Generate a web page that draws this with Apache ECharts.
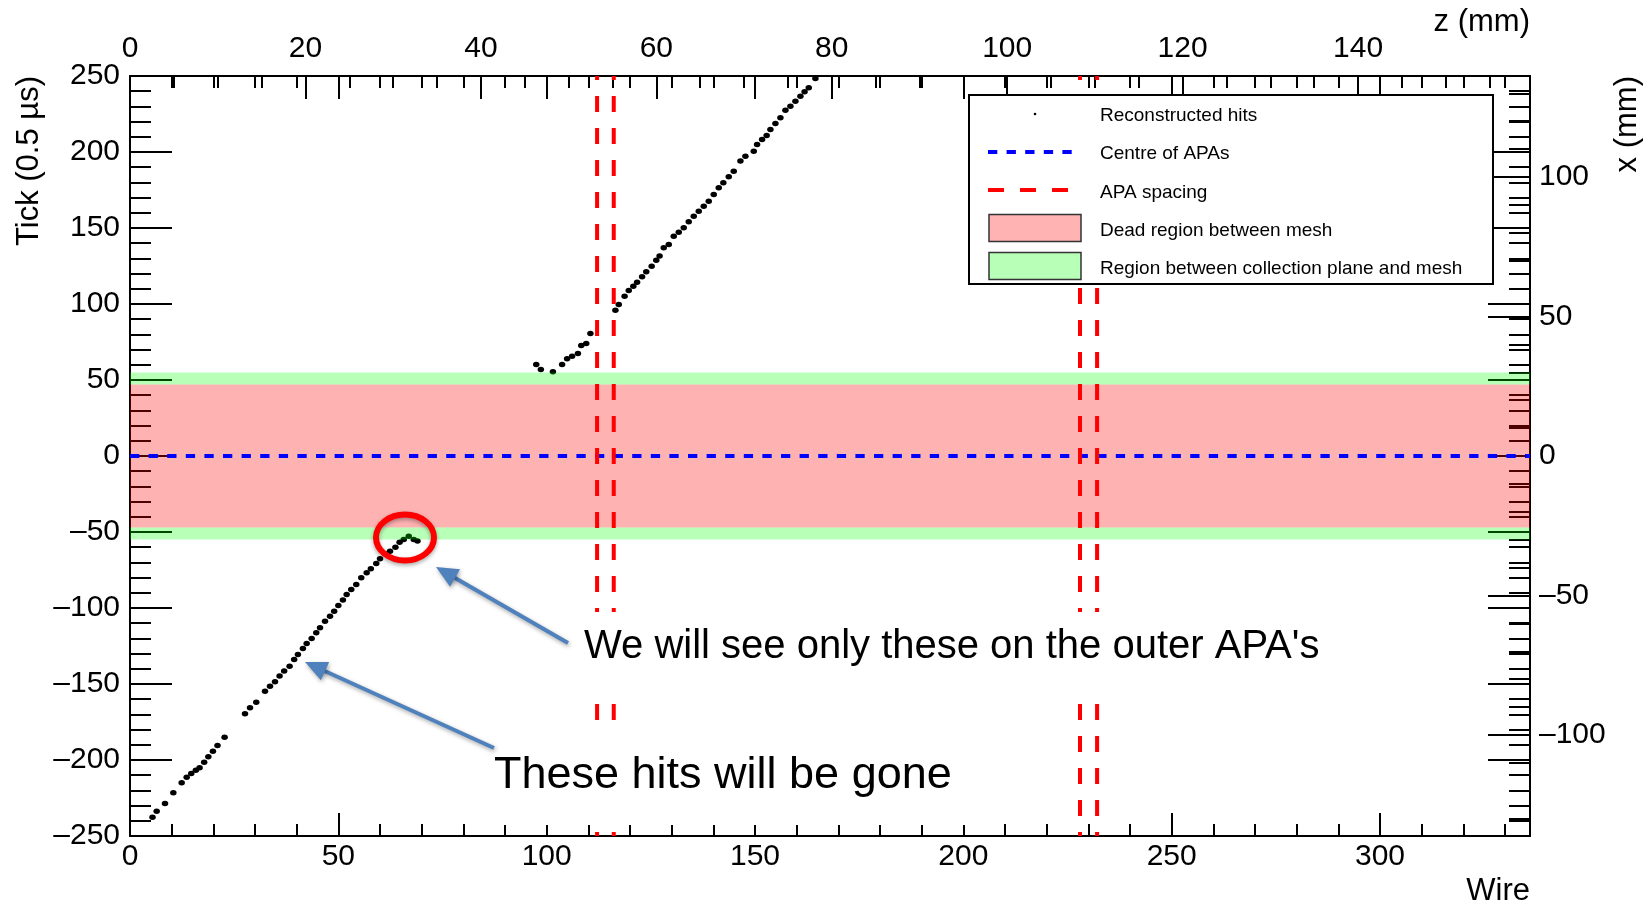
<!DOCTYPE html>
<html>
<head>
<meta charset="utf-8">
<script src="https://cdn.jsdelivr.net/npm/echarts@6/dist/echarts.min.js"></script>
<style>html,body{margin:0;padding:0;background:#fff}#chart{width:1648px;height:920px}</style>
</head>
<body>
<div id="chart"></div>
<script>
// ---------------- data ----------------
const wireRange = [0, 336];
const zRange = [0, 159.6];
const tickRange = [-250, 250];
const xmmRange = [-136.2, 136.2];

const wireMajor = [0, 50, 100, 150, 200, 250, 300];
const wireMinor = [10,20,30,40,60,70,80,90,110,120,130,140,160,170,180,190,210,220,230,240,260,270,280,290,310,320,330];
const zMajor = [0, 20, 40, 60, 80, 100, 120, 140];
const zMinor = [5,10,15,25,30,35,45,50,55,65,70,75,85,90,95,105,110,115,125,130,135,145,150,155];
const tickMajor = [-250, -200, -150, -100, -50, 0, 50, 100, 150, 200, 250];
const tickMinor = [-240,-230,-220,-210,-190,-180,-170,-160,-140,-130,-120,-110,-90,-80,-70,-60,-40,-30,-20,-10,
                   10,20,30,40,60,70,80,90,110,120,130,140,160,170,180,190,210,220,230,240];
const xmmMajor = [-100, -50, 0, 50, 100];
const xmmMinor = [-130,-120,-110,-90,-80,-70,-60,-40,-30,-20,-10,10,20,30,40,60,70,80,90,110,120,130];

// reconstructed hits [wire, tick]
const hitsLower = [
  [5.4,-237.6],[6.4,-233.7],[8.4,-228.6],[10.4,-221.6],[12.4,-215.0],[13.6,-211.3],[14.7,-208.9],
  [15.8,-206.7],[16.7,-205.1],[17.8,-201.4],[18.8,-197.9],[19.9,-194.2],[21.0,-190.5],[22.7,-185.0],
  [27.6,-169.6],[28.8,-165.7],[30.3,-162.0],[32.4,-154.7],[33.6,-151.4],[34.8,-148.5],[35.9,-144.8],
  [37.0,-141.5],[38.3,-138.3],[39.4,-133.9],[40.3,-130.6],[41.5,-126.6],[42.4,-123.4],[43.6,-120.1],
  [44.7,-116.3],[45.6,-113.0],[46.8,-108.7],[48.0,-105.4],[49.0,-102.1],[50.0,-98.4],[51.1,-94.8],
  [52.0,-91.1],[53.1,-87.8],[54.3,-84.5],[55.5,-80.1],[56.8,-76.8],[57.8,-74.2],[59.1,-70.7],
  [60.0,-67.6],[61.2,-64.3],[62.4,-62.6],[63.7,-60.0],[64.7,-56.7],[65.7,-54.9],[66.9,-52.8],
  [68.1,-54.9],[69.0,-56.0]
];
const hitsUpper = [
  [97.5,60.2],[98.6,56.9],[101.5,55.4],[103.7,60.2],[104.9,63.9],[106.1,65.7],[107.5,67.4],[108.3,72.7],
  [109.5,74.0],[110.5,80.6],[116.5,95.9],[117.3,99.7],[118.7,105.1],[119.7,108.9],[120.8,111.7],
  [121.7,114.3],[122.9,117.9],[123.9,121.2],[125.2,124.9],[126.3,128.8],[127.1,131.5],[128.1,137.0],
  [129.3,139.1],[130.5,144.6],[131.7,147.2],[132.9,150.1],[134.1,154.1],[135.3,157.8],[136.5,161.1],
  [137.7,164.3],[138.9,167.6],[140.1,172.0],[141.3,176.4],[142.4,179.7],[143.7,183.7],[144.9,187.4],
  [146.5,194.0],[147.7,197.2],[149.7,200.5],[150.5,204.9],[151.7,208.2],[152.8,210.9],[153.7,214.8],
  [154.9,218.8],[156.1,222.5],[157.3,227.5],[158.5,230.1],[159.7,233.4],[160.9,236.7],[161.9,239.6],
  [162.9,242.2],[164.5,248.4]
];
const apaWires = [112.1, 116.1, 228.0, 232.1];
const centreLine = [[0, 0], [336, 0]];
const deadRegion = [[-47, 47]];
const meshRegion = [[47, 55], [-55, -47]];

// ---------------- chart ----------------
const FONT = 'Liberation Sans, Arial, Helvetica, sans-serif';
const BLACK = '#000';
const minus = v => String(v).replace('-', '\u2013');

function axis(pos, range, ticks, len, labels, margin, line, extra) {
  const a = {
    type: 'value', position: pos, min: range[0], max: range[1],
    splitLine: { show: false },
    axisLine: { show: !!line, onZero: false, lineStyle: { color: BLACK, width: 2 } },
    axisTick: { show: true, inside: true, length: len, customValues: ticks, lineStyle: { color: BLACK, width: 2 } },
    axisLabel: labels ? { show: true, customValues: labels, margin: margin, fontSize: 30, fontFamily: FONT, color: BLACK, formatter: minus }
                      : { show: false }
  };
  return Object.assign(a, extra || {});
}

const xAxes = [
  axis('bottom', wireRange, wireMajor, 23, wireMajor, 6, true),
  axis('bottom', wireRange, wireMinor, 12, null, 0, false),
  axis('top', wireRange, wireMajor, 23, null, 0, false),
  axis('top', wireRange, wireMinor, 12, null, 0, false),
  axis('top', zRange, zMajor, 23, zMajor, 12, true),
  axis('top', zRange, zMinor, 12, null, 0, false)
];
const yAxes = [
  axis('left', tickRange, tickMajor, 42, tickMajor, 10, true),
  axis('left', tickRange, tickMinor, 21, null, 0, false),
  axis('right', tickRange, tickMajor, 42, null, 0, true),
  axis('right', tickRange, tickMinor, 21, null, 0, false),
  axis('right', xmmRange, xmmMajor, 42, xmmMajor, 9, false),
  axis('right', xmmRange, xmmMinor, 21, null, 0, false)
];

function bandSeries(data, color) {
  return {
    type: 'custom', xAxisIndex: 0, yAxisIndex: 0, z: 3, silent: true,
    data: data,
    renderItem: function (params, api) {
      const p0 = api.coord([wireRange[0], api.value(1)]);
      const p1 = api.coord([wireRange[1], api.value(0)]);
      return { type: 'rect', shape: { x: p0[0], y: p0[1], width: p1[0] - p0[0], height: p1[1] - p0[1] },
               style: { fill: color } };
    }
  };
}

const series = [
  {
    type: 'scatter', name: 'Reconstructed hits', xAxisIndex: 0, yAxisIndex: 0, z: 2, silent: true,
    data: hitsLower.concat(hitsUpper), symbol: 'circle', symbolSize: [6.5, 5.5],
    itemStyle: { color: BLACK, opacity: 1 }
  },
  bandSeries(deadRegion, 'rgba(255,0,0,0.3)'),
  bandSeries(meshRegion, 'rgba(0,255,0,0.28)'),
  {
    type: 'line', name: 'Centre of APAs', xAxisIndex: 0, yAxisIndex: 0, z: 4, silent: true,
    data: centreLine, symbol: 'none',
    lineStyle: { color: '#0000ff', width: 4, type: [9.3, 9.3] }
  }
].concat(apaWires.map(w => ({
  type: 'line', name: 'APA spacing', xAxisIndex: 0, yAxisIndex: 0, z: 4, silent: true,
  data: [[w, tickRange[1]], [w, tickRange[0]]], symbol: 'none',
  lineStyle: { color: '#ff0000', width: 4, type: [16, 16], dashOffset: 12 }
})));

// ---------------- annotations / legend (decoration) ----------------
const ARROW = '#4f81bd';
function arrow(x1, y1, x2, y2) {
  const dx = x2 - x1, dy = y2 - y1, L = Math.hypot(dx, dy);
  const ux = dx / L, uy = dy / L, px = -uy, py = ux;
  const hl = 22, hw = 10;
  const bx = x2 - ux * hl, by = y2 - uy * hl;
  const shadow = { shadowBlur: 4, shadowColor: 'rgba(0,0,0,0.35)', shadowOffsetX: 1, shadowOffsetY: 2 };
  return [
    { type: 'line', z: 20, shape: { x1: x1, y1: y1, x2: bx + ux * 4, y2: by + uy * 4 },
      style: Object.assign({ stroke: ARROW, lineWidth: 4 }, shadow) },
    { type: 'polygon', z: 20, shape: { points: [[x2, y2], [bx + px * hw, by + py * hw], [bx - px * hw, by - py * hw]] },
      style: Object.assign({ fill: ARROW }, shadow) }
  ];
}
function txt(x, y, s, size, align, rot) {
  return { type: 'text', z: 30, x: x, y: y, rotation: rot || 0,
    style: { text: s, fontSize: size, fontFamily: FONT, fill: BLACK, align: align || 'left', verticalAlign: 'middle' } };
}

const graphics = [
  // white text boxes of the slide annotations
  { type: 'rect', z: 15, shape: { x: 572, y: 612, width: 758, height: 84 }, style: { fill: '#fff' } },
  { type: 'rect', z: 15, shape: { x: 484, y: 733, width: 484, height: 92 }, style: { fill: '#fff' } },
  txt(584, 647, "We will see only these on the outer APA's", 40),
  txt(494, 776, 'These hits will be gone', 45),
  { type: 'ellipse', z: 20, shape: { cx: 405, cy: 537.5, rx: 29, ry: 23 },
    style: { fill: null, stroke: '#ff0000', lineWidth: 6, shadowBlur: 4, shadowColor: 'rgba(0,0,0,0.35)', shadowOffsetY: 2 } }
]
.concat(arrow(568, 643, 436, 567))
.concat(arrow(494, 748, 305, 662))
.concat([
  // axis titles
  txt(29, 76, 'Tick (0.5 \u00b5s)', 31, 'right', Math.PI / 2),
  txt(1627, 76, 'x (mm)', 31, 'right', Math.PI / 2),
  txt(1530, 891, 'Wire', 31, 'right'),
  txt(1530, 22, 'z (mm)', 31, 'right'),
  // legend
  { type: 'rect', z: 25, shape: { x: 969, y: 95, width: 524, height: 189 }, style: { fill: '#fff', stroke: BLACK, lineWidth: 2 } },
  { type: 'circle', z: 26, shape: { cx: 1035, cy: 114, r: 1.3 }, style: { fill: BLACK } },
  { type: 'line', z: 26, shape: { x1: 988, y1: 152, x2: 1078, y2: 152 }, style: { stroke: '#0000ff', lineWidth: 4, lineDash: [9.3, 9.3] } },
  { type: 'line', z: 26, shape: { x1: 988, y1: 190, x2: 1078, y2: 190 }, style: { stroke: '#ff0000', lineWidth: 4, lineDash: [16, 16] } },
  { type: 'rect', z: 26, shape: { x: 989, y: 214.5, width: 92, height: 27 }, style: { fill: '#ffb3b3', stroke: '#333', lineWidth: 1.5 } },
  { type: 'rect', z: 26, shape: { x: 989, y: 252.5, width: 92, height: 27 }, style: { fill: '#b8ffb8', stroke: '#333', lineWidth: 1.5 } },
  txt(1100, 116, 'Reconstructed hits', 19),
  txt(1100, 154, 'Centre of APAs', 19),
  txt(1100, 192.5, 'APA spacing', 19),
  txt(1100, 230.5, 'Dead region between mesh', 19),
  txt(1100, 268.5, 'Region between collection plane and mesh', 19)
]);

const chart = echarts.init(document.getElementById('chart'), null, { renderer: 'canvas' });
chart.setOption({
  animation: false,
  backgroundColor: '#fff',
  grid: { left: 130, right: 118, top: 76, bottom: 84, containLabel: false },
  xAxis: xAxes,
  yAxis: yAxes,
  series: series,
  graphic: graphics
});
</script>
</body>
</html>
